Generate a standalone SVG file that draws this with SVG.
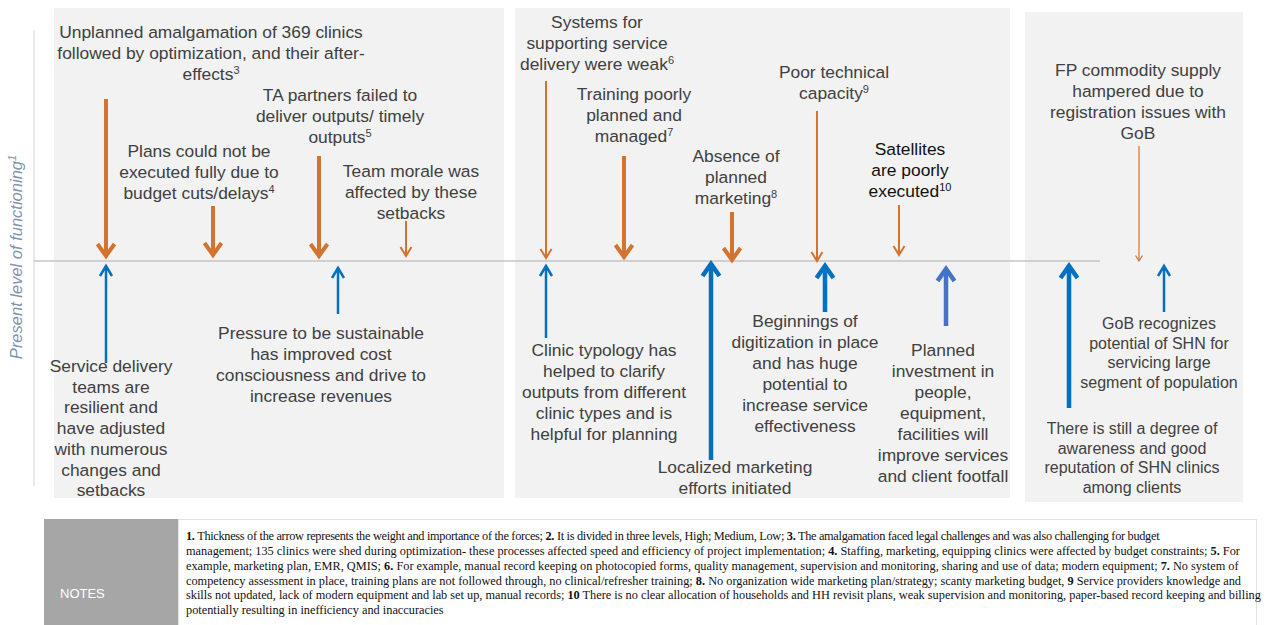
<svg xmlns="http://www.w3.org/2000/svg" width="1278" height="625" viewBox="0 0 1278 625">
  <style>
    .panel { fill: #f2f2f2; }
    .lbl { font-family: "Liberation Sans", Arial, sans-serif; font-size: 17.4px; fill: #404040; text-anchor: middle; }
    .sm { font-size: 16px; }
    .dark { fill: #111111; }
    .sup { font-size: 11px; }
    .axis { font-family: "Liberation Sans", Arial, sans-serif; font-size: 16.5px; font-style: italic; fill: #8194ab; text-anchor: middle; }
    .notes { font-family: "Liberation Serif", "Times New Roman", serif; font-size: 12.3px; fill: #111111; }
    .notes tspan.b { font-weight: bold; }
    .tight { letter-spacing: -0.3px; }
    .neg { stroke: #d2732f; fill: none; }
    .pos { stroke: #0070c0; fill: none; }
    .pos2 { stroke: #4472c4; fill: none; }
  </style>
  <defs>
    <marker id="m-o4" markerUnits="userSpaceOnUse" markerWidth="40" markerHeight="40" viewBox="-20 -20 40 40" refX="0" refY="0" orient="auto" overflow="visible">
      <path d="M-12,-8.5 L0,0 L-12,8.5" fill="none" stroke="#d2732f" stroke-width="4" stroke-linejoin="miter"/>
    </marker>
    <marker id="m-o2" markerUnits="userSpaceOnUse" markerWidth="40" markerHeight="40" viewBox="-20 -20 40 40" refX="0" refY="0" orient="auto" overflow="visible">
      <path d="M-9,-5.5 L0,0 L-9,5.5" fill="none" stroke="#d2732f" stroke-width="2" stroke-linejoin="miter"/>
    </marker>
    <marker id="m-o1" markerUnits="userSpaceOnUse" markerWidth="40" markerHeight="40" viewBox="-20 -20 40 40" refX="0" refY="0" orient="auto" overflow="visible">
      <path d="M-5.5,-3.5 L0,0 L-5.5,3.5" fill="none" stroke="#d2732f" stroke-width="1.2" stroke-linejoin="miter"/>
    </marker>
    <marker id="m-b25" markerUnits="userSpaceOnUse" markerWidth="40" markerHeight="40" viewBox="-20 -20 40 40" refX="0" refY="0" orient="auto" overflow="visible">
      <path d="M-10,-6 L0,0 L-10,6" fill="none" stroke="#0070c0" stroke-width="2.5" stroke-linejoin="miter"/>
    </marker>
    <marker id="m-b45" markerUnits="userSpaceOnUse" markerWidth="40" markerHeight="40" viewBox="-20 -20 40 40" refX="0" refY="0" orient="auto" overflow="visible">
      <path d="M-12,-8.5 L0,0 L-12,8.5" fill="none" stroke="#0070c0" stroke-width="4.5" stroke-linejoin="miter"/>
    </marker>
    <marker id="m-c45" markerUnits="userSpaceOnUse" markerWidth="40" markerHeight="40" viewBox="-20 -20 40 40" refX="0" refY="0" orient="auto" overflow="visible">
      <path d="M-12,-8.5 L0,0 L-12,8.5" fill="none" stroke="#4472c4" stroke-width="4.5" stroke-linejoin="miter"/>
    </marker>
  </defs>

  <rect width="1278" height="625" fill="#ffffff"/>

  <!-- background panels -->
  <g id="panels">
    <rect class="panel" x="54" y="8" width="450" height="490"/>
    <rect class="panel" x="515" y="8" width="495" height="490"/>
    <rect class="panel" x="1025" y="12" width="218" height="490"/>
  </g>

  <!-- axis and present-level line -->
  <g id="axis">
    <line x1="34" y1="30" x2="34" y2="486" stroke="#d4d4d4" stroke-width="1"/>
    <line x1="34" y1="261" x2="1100" y2="261" stroke="#c4c4c4" stroke-width="1.5"/>
    <text class="axis" transform="translate(22,257) rotate(-90)">Present level of functioning<tspan class="sup" dy="-6">1</tspan></text>
  </g>

  <!-- connectors: orange = restraining forces, blue = driving forces -->
  <g id="connectors">
    <line class="neg" x1="106" y1="99" x2="106" y2="256" stroke-width="4" marker-end="url(#m-o4)"/>
    <line class="neg" x1="213" y1="206" x2="213" y2="255" stroke-width="4" marker-end="url(#m-o4)"/>
    <line class="neg" x1="319" y1="156" x2="319" y2="256" stroke-width="4" marker-end="url(#m-o4)"/>
    <line class="neg" x1="406" y1="221" x2="406" y2="256" stroke-width="2" marker-end="url(#m-o2)"/>
    <line class="neg" x1="546" y1="81" x2="546" y2="258" stroke-width="2" marker-end="url(#m-o2)"/>
    <line class="neg" x1="624" y1="156" x2="624" y2="257" stroke-width="4" marker-end="url(#m-o4)"/>
    <line class="neg" x1="732" y1="212" x2="732" y2="260" stroke-width="4" marker-end="url(#m-o4)"/>
    <line class="neg" x1="817" y1="111" x2="817" y2="261" stroke-width="2" marker-end="url(#m-o2)"/>
    <line class="neg" x1="899" y1="205" x2="899" y2="255" stroke-width="2" marker-end="url(#m-o2)"/>
    <line class="neg" x1="1139" y1="146" x2="1139" y2="261" stroke-width="1.2" marker-end="url(#m-o1)"/>

    <line class="pos" x1="106" y1="363" x2="106" y2="266" stroke-width="2.5" marker-end="url(#m-b25)"/>
    <line class="pos" x1="338" y1="314" x2="338" y2="268" stroke-width="2.5" marker-end="url(#m-b25)"/>
    <line class="pos" x1="546" y1="338" x2="546" y2="266" stroke-width="2.5" marker-end="url(#m-b25)"/>
    <line class="pos" x1="711" y1="460" x2="711" y2="264" stroke-width="4.5" marker-end="url(#m-b45)"/>
    <line class="pos" x1="825" y1="312" x2="825" y2="266" stroke-width="4.5" marker-end="url(#m-b45)"/>
    <line class="pos2" x1="946" y1="326" x2="946" y2="269" stroke-width="4.5" marker-end="url(#m-c45)"/>
    <line class="pos" x1="1069" y1="408" x2="1069" y2="266" stroke-width="4.5" marker-end="url(#m-b45)"/>
    <line class="pos" x1="1164" y1="312" x2="1164" y2="266" stroke-width="2.5" marker-end="url(#m-b25)"/>
  </g>

  <!-- restraining forces -->
  <g id="amalgamation">
    <text class="lbl" x="211" y="38">Unplanned amalgamation of 369 clinics<tspan x="211" dy="21">followed by optimization, and their after-</tspan><tspan x="211" dy="21">effects</tspan><tspan class="sup" dy="-6">3</tspan></text>
  </g>
  <g id="budget-cuts">
    <text class="lbl" x="199" y="157">Plans could not be<tspan x="199" dy="21">executed fully due to</tspan><tspan x="199" dy="21">budget cuts/delays</tspan><tspan class="sup" dy="-6">4</tspan></text>
  </g>
  <g id="ta-partners">
    <text class="lbl" x="340" y="101">TA partners failed to<tspan x="340" dy="21">deliver outputs/ timely</tspan><tspan x="340" dy="21">outputs</tspan><tspan class="sup" dy="-6">5</tspan></text>
  </g>
  <g id="team-morale">
    <text class="lbl" x="411" y="177">Team morale was<tspan x="411" dy="21">affected by these</tspan><tspan x="411" dy="21">setbacks</tspan></text>
  </g>
  <g id="weak-systems">
    <text class="lbl" x="597" y="28">Systems for<tspan x="597" dy="21">supporting service</tspan><tspan x="597" dy="21">delivery were weak</tspan><tspan class="sup" dy="-6">6</tspan></text>
  </g>
  <g id="training">
    <text class="lbl" x="634" y="100">Training poorly<tspan x="634" dy="21">planned and</tspan><tspan x="634" dy="21">managed</tspan><tspan class="sup" dy="-6">7</tspan></text>
  </g>
  <g id="marketing-absence">
    <text class="lbl" x="736" y="162">Absence of<tspan x="736" dy="21">planned</tspan><tspan x="736" dy="21">marketing</tspan><tspan class="sup" dy="-6">8</tspan></text>
  </g>
  <g id="technical-capacity">
    <text class="lbl" x="834" y="78">Poor technical<tspan x="834" dy="21">capacity</tspan><tspan class="sup" dy="-6">9</tspan></text>
  </g>
  <g id="satellites">
    <text class="lbl dark" x="910" y="155">Satellites<tspan x="910" dy="21">are poorly</tspan><tspan x="910" dy="21">executed</tspan><tspan class="sup" dy="-6">10</tspan></text>
  </g>
  <g id="fp-supply">
    <text class="lbl" x="1138" y="76">FP commodity supply<tspan x="1138" dy="21">hampered due to</tspan><tspan x="1138" dy="21">registration issues with</tspan><tspan x="1138" dy="21">GoB</tspan></text>
  </g>

  <!-- driving forces -->
  <g id="resilient-teams">
    <text class="lbl" x="111" y="372">Service delivery<tspan x="111" dy="20.7">teams are</tspan><tspan x="111" dy="20.7">resilient and</tspan><tspan x="111" dy="20.7">have adjusted</tspan><tspan x="111" dy="20.7">with numerous</tspan><tspan x="111" dy="20.7">changes and</tspan><tspan x="111" dy="20.7">setbacks</tspan></text>
  </g>
  <g id="sustainability">
    <text class="lbl" x="321" y="339">Pressure to be sustainable<tspan x="321" dy="21">has improved cost</tspan><tspan x="321" dy="21">consciousness and drive to</tspan><tspan x="321" dy="21">increase revenues</tspan></text>
  </g>
  <g id="clinic-typology">
    <text class="lbl" x="604" y="356">Clinic typology has<tspan x="604" dy="21">helped to clarify</tspan><tspan x="604" dy="21">outputs from different</tspan><tspan x="604" dy="21">clinic types and is</tspan><tspan x="604" dy="21">helpful for planning</tspan></text>
  </g>
  <g id="local-marketing">
    <text class="lbl" x="735" y="473">Localized marketing<tspan x="735" dy="21">efforts initiated</tspan></text>
  </g>
  <g id="digitization">
    <text class="lbl" x="805" y="327">Beginnings of<tspan x="805" dy="21">digitization in place</tspan><tspan x="805" dy="21">and has huge</tspan><tspan x="805" dy="21">potential to</tspan><tspan x="805" dy="21">increase service</tspan><tspan x="805" dy="21">effectiveness</tspan></text>
  </g>
  <g id="investment">
    <text class="lbl" x="943" y="356">Planned<tspan x="943" dy="21">investment in</tspan><tspan x="943" dy="21">people,</tspan><tspan x="943" dy="21">equipment,</tspan><tspan x="943" dy="21">facilities will</tspan><tspan x="943" dy="21">improve services</tspan><tspan x="943" dy="21">and client footfall</tspan></text>
  </g>
  <g id="gob-recognition">
    <text class="lbl sm" x="1159" y="329">GoB recognizes<tspan x="1159" dy="19.5">potential of SHN for</tspan><tspan x="1159" dy="19.5">servicing large</tspan><tspan x="1159" dy="19.5">segment of population</tspan></text>
  </g>
  <g id="reputation">
    <text class="lbl sm" x="1132" y="434">There is still a degree of<tspan x="1132" dy="19.5">awareness and good</tspan><tspan x="1132" dy="19.5">reputation of SHN clinics</tspan><tspan x="1132" dy="19.5">among clients</tspan></text>
  </g>

  <!-- notes strip -->
  <g id="notes">
    <rect x="178.5" y="519.5" width="1078" height="110" fill="#ffffff" stroke="#e2e2e2" stroke-width="1"/>
    <rect x="44" y="519" width="134" height="106" fill="#a6a6a6"/>
    <text x="60" y="598" font-family="'Liberation Sans', Arial, sans-serif" font-size="13" fill="#ffffff">NOTES</text>
    <text class="notes tight" x="186" y="540"><tspan class="b">1.</tspan> Thickness of the arrow represents the weight and importance of the forces; <tspan class="b">2.</tspan> It is divided in three levels, High; Medium, Low; <tspan class="b">3.</tspan> The amalgamation faced legal challenges and was also challenging for budget</text>
    <text class="notes" x="186" y="555">management;  135 clinics were shed during optimization- these processes affected speed and efficiency of project implementation;  <tspan class="b">4.</tspan> Staffing, marketing, equipping clinics were affected by budget constraints; <tspan class="b">5.</tspan> For</text>
    <text class="notes" x="186" y="570">example, marketing plan, EMR, QMIS; <tspan class="b">6.</tspan> For example,  manual record keeping on photocopied forms, quality management, supervision and monitoring, sharing and use of data; modern equipment;  <tspan class="b">7.</tspan> No system of</text>
    <text class="notes" x="186" y="585">competency assessment in place, training plans are not followed through, no clinical/refresher training; <tspan class="b">8.</tspan> No organization wide marketing plan/strategy;  scanty marketing budget, <tspan class="b">9</tspan> Service providers knowledge and</text>
    <text class="notes" x="186" y="599">skills not updated, lack of modern equipment and lab set up, manual records; <tspan class="b">10</tspan> There is no clear allocation of households and HH revisit plans, weak supervision and monitoring, paper-based record keeping and billing</text>
    <text class="notes" x="186" y="614">potentially resulting in inefficiency and inaccuracies</text>
  </g>
</svg>
